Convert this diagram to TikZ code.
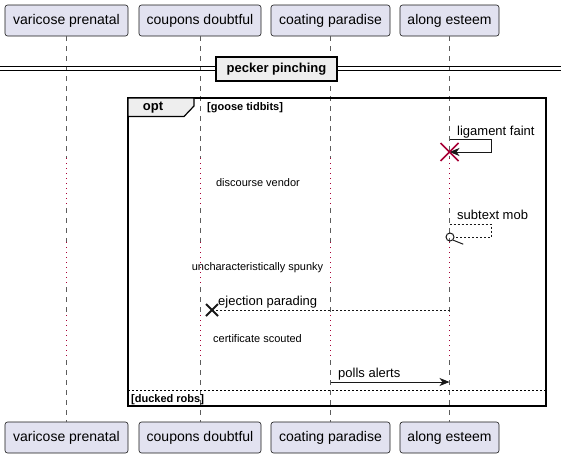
\documentclass[tikz,border=0pt]{standalone}
\usepackage{fontspec}
\setmainfont{Liberation Sans}
\usetikzlibrary{arrows.meta,calc}
\definecolor{partfill}{HTML}{E2E2F0}
\definecolor{partline}{HTML}{181818}
\definecolor{grpfill}{HTML}{EEEEEE}
\definecolor{delaycol}{HTML}{A80036}
\tikzset{
  part/.style={draw=partline,fill=partfill,line width=0.6pt,rounded corners=2.5pt,minimum height=31pt,inner sep=0pt,font=\fontsize{14}{16}\selectfont},
  life/.style={draw=partline!70,line width=0.6pt,dash pattern=on 5pt off 5pt},
  delayline/.style={draw=delaycol,line width=1pt,dash pattern=on 1.2pt off 3.8pt},
  msg/.style={draw=partline,line width=0.8pt},
  msgdash/.style={draw=partline,line width=0.8pt,dash pattern=on 2pt off 2pt},
  tip/.style={-{Stealth[length=10pt,width=8pt,inset=3pt]}},
  msgtxt/.style={inner sep=0pt,anchor=base west,font=\fontsize{13}{15}\selectfont},
  delaytxt/.style={inner sep=0pt,font=\fontsize{11}{13}\selectfont},
  grptxt/.style={inner sep=0pt,font=\bfseries\fontsize{11}{13}\selectfont},
}
\begin{document}
\begin{tikzpicture}[x=1pt,y=-1pt]
\useasboundingbox (0,0) rectangle (561,458);
% participants
\foreach \n/\cx/\w/\t in {1/66.5/123/varicose prenatal,2/200/122/coupons doubtful,3/330.5/119/coating paradise,4/449.5/99/along esteem}{
  \node[part,minimum width=\w pt] (p\n t) at (\cx,20.5) {\t};
  \node[part,minimum width=\w pt] (p\n b) at (\cx,437.5) {\t};
  \draw[life] (p\n t.south) -- (p\n t.south |- 0,158);
  \draw[delayline] (p\n t.south |- 0,158) -- (p\n t.south |- 0,208);
  \draw[life] (p\n t.south |- 0,208) -- (p\n t.south |- 0,242);
  \draw[delayline] (p\n t.south |- 0,242) -- (p\n t.south |- 0,287);
  \draw[life] (p\n t.south |- 0,287) -- (p\n t.south |- 0,315);
  \draw[delayline] (p\n t.south |- 0,315) -- (p\n t.south |- 0,360);
  \draw[life] (p\n t.south |- 0,360) -- (p\n b.north);
}
% divider
\draw[line width=0.8pt] (0,66.5) -- (561,66.5);
\draw[line width=0.8pt] (0,70) -- (561,70);
\node[draw=black,fill=grpfill,line width=1.6pt,minimum width=121pt,minimum height=24pt,inner sep=0pt,font=\bfseries\fontsize{13}{15}\selectfont] (div) at (276.5,69) {pecker pinching};
% opt frame
\draw[line width=1.5pt] (128,98) rectangle (546,406);
\draw[line width=1.2pt,fill=grpfill] (128,98) -- (194,98) -- (194,106) -- (184,116.5) -- (128,116.5) -- cycle;
\node[inner sep=0pt,font=\bfseries\fontsize{13}{15}\selectfont] (opt) at (153,108) {opt};
\node[grptxt,anchor=west] (g1) at (207,108) {[goose tidbits]};
\draw[line width=0.8pt,dash pattern=on 2pt off 2pt] (128,390) -- (546,390);
\node[grptxt,anchor=west] (g2) at (131,400) {[ducked robs]};
% coordinates for messages
\coordinate (a1) at (p4t.south |- 0,139);
\coordinate (a2) at (491,139);
\coordinate (a3) at (491,152);
\coordinate (a4) at (p4t.south |- 0,152);
% ligament faint
\draw[msg,tip] (a1) -- (a2) -- (a3) -- (a4);
\node[msgtxt] (t1) at (457,135) {ligament faint};
\draw[draw=delaycol,line width=1.6pt] ($(a4)+(-9,-9)$) -- ($(a4)+(9,9)$) ($(a4)+(-9,9)$) -- ($(a4)+(9,-9)$);
% discourse vendor
\node[delaytxt] (d1) at (258,183) {discourse vendor};
% subtext mob
\coordinate (b1) at (p4t.south |- 0,224);
\coordinate (b2) at (491,224);
\coordinate (b3) at (491,237);
\coordinate (b4) at (454,237);
\draw[msgdash] (b1) -- (b2) -- (b3) -- (b4);
\node[draw=partline,line width=1pt,circle,minimum size=8pt,inner sep=0pt] (circ) at (450,237) {};
\draw[msg,line width=1pt] (circ.south east) -- ++(10,4);
\node[msgtxt] (t2) at (457,219) {subtext mob};
% uncharacteristically spunky
\node[delaytxt] (d2) at (257.5,268) {uncharacteristically spunky};
% ejection parading
\coordinate (c1) at (p4t.south |- 0,310);
\coordinate (c2) at (212,310);
\draw[msgdash] (c1) -- (c2);
\draw[draw=partline,line width=1.8pt] ($(c2)+(-6,-6)$) -- ($(c2)+(6,6)$) ($(c2)+(-6,6)$) -- ($(c2)+(6,-6)$);
\node[msgtxt] (t3) at (218,305) {ejection parading};
% certificate scouted
\node[delaytxt] (d3) at (257.5,339) {certificate scouted};
% polls alerts
\coordinate (e1) at (p3t.south |- 0,382);
\coordinate (e2) at (p4t.south |- 0,382);
\draw[msg,tip] (e1) -- (e2);
\node[msgtxt] (t4) at (338,377) {polls alerts};
\end{tikzpicture}
\end{document}
